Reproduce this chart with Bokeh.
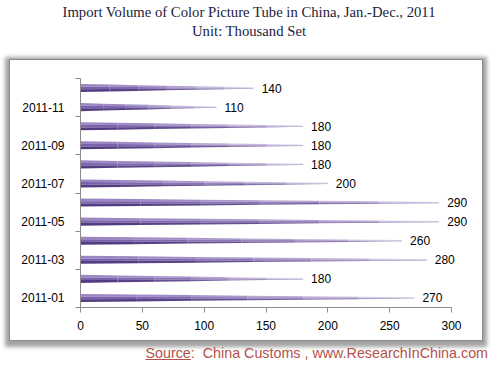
from bokeh.plotting import figure
from bokeh.models import (FixedTicker, LabelSet, ColumnDataSource, Range1d, Div)
from bokeh.layouts import column
from bokeh.core.properties import value
from bokeh.embed import file_html
from bokeh.resources import INLINE

# ---- data ----
months = ["2011-01", "2011-02", "2011-03", "2011-04", "2011-05", "2011-06",
          "2011-07", "2011-08", "2011-09", "2011-10", "2011-11", "2011-12"]
volumes = [270, 180, 280, 260, 290, 290, 200, 180, 180, 180, 110, 140]
x_ticks = [0, 50, 100, 150, 200, 250, 300]
title_line1 = "Import Volume of Color Picture Tube in China, Jan.-Dec., 2011"
title_line2 = "Unit: Thousand Set"
source_label = "Source"
source_rest = ":&nbsp; China Customs , www.ResearchInChina.com"

# ---- title ----
title_div = Div(
    text=('<div style="width:498px;font-family:\'Liberation Serif\';font-size:14.7px;'
          'line-height:19px;color:#1c1c3c;text-align:center;padding-top:3px;'
          'white-space:nowrap;">' + title_line1 + '<br>' + title_line2 + '</div>'),
    width=498, height=56, margin=(0, 0, 0, 0))

# ---- chart ----
p = figure(width=472, height=280, output_backend="svg", toolbar_location=None,
           x_range=Range1d(0, 323.45), y_range=Range1d(-0.5, 11.5),
           min_border_left=70, min_border_right=2,
           min_border_top=18, min_border_bottom=33,
           margin=(4, 0, 0, 10),
           styles={"box-shadow": "0 0 0 1px #8a8a8a, 0px 2px 4px 5px #a3a3a3"})
p.outline_line_color = None
p.background_fill_color = "white"
p.border_fill_color = "white"
p.xgrid.visible = False
p.ygrid.visible = False


def mix(c1, c2, t):
    a = [int(c1[i:i + 2], 16) for i in (1, 3, 5)]
    b = [int(c2[i:i + 2], 16) for i in (1, 3, 5)]
    return "#%02x%02x%02x" % tuple(int(round(a[j] + (b[j] - a[j]) * t)) for j in range(3))


# cone-shaped bars
h = 0.21
nseg = 6
bands = [(0.35, 1.0, "#9a86c2", "#ece6f4"),   # top
         (-0.3, 0.35, "#7a63ac", "#d6cce6"),  # middle
         (-1.0, -0.3, "#523d82", "#b9abd4")]  # bottom
xs, ys, cols = [], [], []
for i, v in enumerate(volumes):
    for k in range(nseg):
        t0, t1 = k / nseg, (k + 1) / nseg
        x0, x1 = v * t0, v * t1
        w0 = h * (1 - 0.85 * t0)
        w1 = h * (1 - 0.85 * t1)
        for lo, hi, c_start, c_end in bands:
            xs.append([x0, x1, x1, x0])
            ys.append([i + lo * w0, i + lo * w1, i + hi * w1, i + hi * w0])
            cols.append(mix(c_start, c_end, t0 ** 1.6))
p.patches(xs, ys, fill_color=cols, line_color=None)

# data labels
src = ColumnDataSource(dict(x=volumes, y=list(range(len(volumes))),
                            t=[str(v) for v in volumes]))
p.add_layout(LabelSet(x="x", y="y", text="t", source=src, x_offset=8,
                      text_baseline="middle", text_font=value("Liberation Sans"),
                      text_font_size=value("12px"), text_color="black"))

# axes
p.xaxis.ticker = FixedTicker(ticks=x_ticks)
p.xaxis.bounds = (0, 300)
p.xaxis.axis_line_color = "#8c8c8c"
p.xaxis.major_tick_line_color = "#8c8c8c"
p.xaxis.major_tick_out = 5
p.xaxis.major_tick_in = 0
p.xaxis.minor_tick_line_color = None
p.xaxis.major_label_standoff = 8
p.xaxis.major_label_text_font = "Liberation Sans"
p.xaxis.major_label_text_font_size = "12px"
p.xaxis.major_label_text_color = "black"

p.yaxis.ticker = FixedTicker(ticks=[0, 2, 4, 6, 8, 10],
                             minor_ticks=[-0.5, 1.5, 3.5, 5.5, 7.5, 9.5, 11.5])
p.yaxis.major_label_overrides = {i: months[i] for i in range(0, 12, 2)}
p.yaxis.axis_line_color = "#8c8c8c"
p.yaxis.major_tick_line_color = None
p.yaxis.major_tick_out = 0
p.yaxis.major_tick_in = 0
p.yaxis.minor_tick_line_color = "#8c8c8c"
p.yaxis.minor_tick_out = 5
p.yaxis.minor_tick_in = 0
p.yaxis.major_label_standoff = 11
p.yaxis.major_label_text_font = "Liberation Sans"
p.yaxis.major_label_text_font_size = "12px"
p.yaxis.major_label_text_color = "black"

# ---- source note ----
source_div = Div(
    text=('<div style="width:488px;font-family:\'Liberation Sans\';font-size:14.3px;'
          'color:#b3524c;text-align:right;white-space:nowrap;padding-top:3px;">'
          '<u>' + source_label + '</u>' + source_rest + '</div>'),
    width=488, height=24, margin=(0, 0, 0, 0))

layout = column(title_div, p, source_div, spacing=0)
open("out.html", "w").write(file_html(layout, INLINE))
